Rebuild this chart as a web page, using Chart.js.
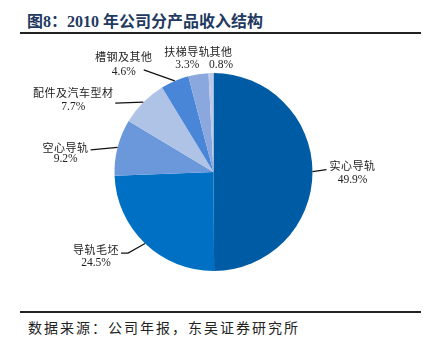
<!DOCTYPE html>
<html>
<head>
<meta charset="utf-8">
<script src="https://cdn.jsdelivr.net/npm/chart.js@4.4.1/dist/chart.umd.min.js"></script>
<style>
  html,body{margin:0;padding:0;background:#fff;}
  #wrap{position:relative;width:435px;height:355px;overflow:hidden;background:#fff;}
  #title{position:absolute;left:27px;top:8px;font:bold 16px "Liberation Serif","Noto Sans CJK SC",serif;color:#1F3A60;white-space:nowrap;}
  #rule1{position:absolute;left:20px;top:32px;width:401px;height:2px;background:#222;}
  #rule2{position:absolute;left:20px;top:311px;width:401px;height:2px;background:#222;}
  #source{position:absolute;left:28px;top:317px;font:14px "Noto Sans CJK SC",sans-serif;letter-spacing:2px;color:#222;white-space:nowrap;}
  #cv{position:absolute;left:0;top:42px;}
</style>
</head>
<body>
<div id="wrap">
  <div id="title">图8：2010 年公司分产品收入结构</div>
  <div id="rule1"></div>
  <canvas id="cv" width="435" height="260"></canvas>
  <div id="rule2"></div>
  <div id="source">数据来源：公司年报，东吴证券研究所</div>
</div>
<script>
const categories = ['实心导轨','导轨毛坯','空心导轨','配件及汽车型材','槽钢及其他','扶梯导轨','其他'];
const shares = [49.9, 24.5, 9.2, 7.7, 4.6, 3.3, 0.8];
const valueLabels = shares.map(v => v.toFixed(1) + '%');
const sliceColors = ['#005BA5','#0070C4','#6A98DA','#AFC3E6','#4A86D8','#8AA8DE','#BCC9E8'];

// label layout relative to each slice's outer edge point (style, not data)
const labelLayout = [
  {line:[[14,-2]], text:[40,-6], gap:14},
  {line:[[-17,9.5],[-24,9.5]], text:[-49,6.5], gap:13},
  {line:[[-27,2.5]], text:[-52,0.6], gap:11.5},
  {line:[[-28,1]], text:[-70,-9], gap:14},
  {line:[[-31,-11]], text:[-51,-24], gap:15},
  {line:null, text:[-11,-22], gap:13},
  {line:null, text:[10,-21], gap:13}
];

const pieLabels = {
  id:'pieLabels',
  afterDatasetsDraw(chart){
    const ctx = chart.ctx;
    const meta = chart.getDatasetMeta(0);
    ctx.save();
    meta.data.forEach((arc, i) => {
      const p = arc.getProps(['x','y','startAngle','endAngle','outerRadius'], true);
      const mid = (p.startAngle + p.endAngle) / 2;
      const ex = p.x + Math.cos(mid) * p.outerRadius;
      const ey = p.y + Math.sin(mid) * p.outerRadius;
      const L = labelLayout[i];
      if (L.line){
        ctx.beginPath();
        ctx.strokeStyle = '#111';
        ctx.lineWidth = 1.2;
        ctx.moveTo(ex, ey);
        L.line.forEach(q => ctx.lineTo(ex + q[0], ey + q[1]));
        ctx.stroke();
      }
      const tx = ex + L.text[0], ty = ey + L.text[1];
      ctx.fillStyle = '#222';
      ctx.textAlign = 'center';
      ctx.textBaseline = 'middle';
      ctx.letterSpacing = '0.5px';
      ctx.font = '11px "Noto Sans CJK SC", sans-serif';
      ctx.fillText(categories[i], tx, ty);
      ctx.letterSpacing = '0px';
      ctx.font = '11.5px "Liberation Serif", serif';
      ctx.fillText(valueLabels[i], tx, ty + L.gap);
    });
    ctx.restore();
  }
};

new Chart(document.getElementById('cv'), {
  type: 'pie',
  data: {
    labels: categories,
    datasets: [{
      data: shares,
      backgroundColor: sliceColors,
      borderWidth: 0
    }]
  },
  options: {
    responsive: false,
    animation: false,
    layout: {padding: {top: 31, bottom: 31, left: 0, right: 8}},
    plugins: {legend: {display: false}, tooltip: {enabled: false}}
  },
  plugins: [pieLabels]
});
</script>
</body>
</html>
